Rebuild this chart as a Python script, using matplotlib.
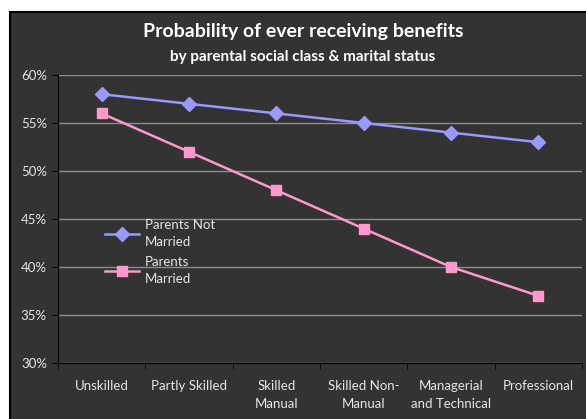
import matplotlib.pyplot as plt
import numpy as np
from matplotlib.patches import Rectangle

categories = ["Unskilled", "Partly Skilled", "Skilled\nManual", "Skilled Non-\nManual",
              "Managerial\nand Technical", "Professional"]
not_married = [58, 57, 56, 55, 54, 53]
married = [56, 52, 48, 44, 40, 37]
yticks = [30, 35, 40, 45, 50, 55, 60]

plt.rcParams['font.family'] = ['Lato', 'DejaVu Sans']
txt = "#e6e6e6"
bg = "#333333"

fig = plt.figure(figsize=(5.86, 4.19), dpi=100)
fig.patch.set_facecolor("white")

# dark chart area
fig.add_artist(Rectangle((10 / 586, -0.01), 1, 1 - 12 / 419 + 0.01, transform=fig.transFigure,
                         facecolor=bg, edgecolor="black", linewidth=1.5, zorder=-5))

ax = fig.add_axes([58 / 586, 1 - 363 / 419, 524 / 586, 288 / 419])
ax.set_facecolor(bg)

x = np.arange(len(categories))
ax.plot(x, not_married, color="#9999ff", marker="D", markersize=7, linewidth=1.8,
        label="Parents Not\nMarried", zorder=3)
ax.plot(x, married, color="#ff99cc", marker="s", markersize=7, linewidth=1.8,
        label="Parents\nMarried", zorder=3)

ax.set_xlim(-0.5, len(categories) - 0.5)
ax.set_ylim(30, 60)
ax.set_yticks(yticks)
ax.set_yticklabels([f"{v}%" for v in yticks], color=txt, fontsize=9.5)
ax.set_xticks(x)
ax.set_xticklabels(categories, color=txt, fontsize=9.5, linespacing=1.6)
ax.set_xticks(np.arange(-0.5, len(categories)), minor=True)
ax.tick_params(axis="x", which="major", length=0, pad=12)
ax.tick_params(axis="x", which="minor", length=4, color="black", direction="out")
ax.tick_params(axis="y", length=4, color="black", direction="out", pad=4)
ax.grid(axis="y", color="#8c8c8c", linewidth=1)
ax.set_axisbelow(True)
for s in ["top", "right"]:
    ax.spines[s].set_visible(False)
ax.spines["left"].set_color("black")
ax.spines["bottom"].set_color("black")

leg = ax.legend(loc="upper left", bbox_to_anchor=(0.09, 0.50), frameon=False,
                fontsize=9.5, labelcolor=txt, handlelength=2.6, labelspacing=0.6,
                handletextpad=0.4, borderaxespad=0, borderpad=0)
for t in leg.get_texts():
    t.set_linespacing(1.5)

fig.text(0.517, 1 - 32 / 419, "Probability of ever receiving benefits", ha="center",
         va="center", color="white", fontsize=14, fontweight="bold")
fig.text(0.517, 1 - 57 / 419, "by parental social class & marital status", ha="center",
         va="center", color="white", fontsize=11, fontweight="bold")

fig.savefig("out.png", dpi=100)
